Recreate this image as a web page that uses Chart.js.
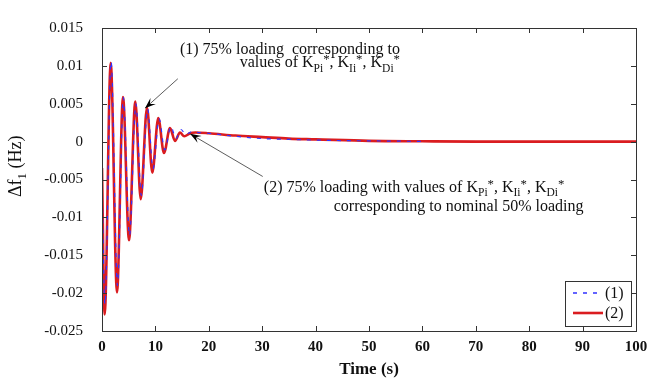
<!DOCTYPE html>
<html>
<head>
<meta charset="utf-8">
<script src="https://cdn.jsdelivr.net/npm/chart.js@4.4.0/dist/chart.umd.min.js"></script>
<style>
  html, body { margin: 0; padding: 0; background: #fff; }
  #wrap { width: 662px; height: 378px; }
</style>
</head>
<body>
<div id="wrap"><canvas id="freqChart" width="662" height="378"></canvas></div>
<script>
// curve (1): 75% loading, gains tuned for 75%  (extrema)
const time1 = [0, 0.55, 1.7, 2.9, 4.0, 5.15, 6.35, 7.35, 8.55, 9.55, 10.7, 11.75, 12.9, 13.85, 14.8, 15.7, 16.7, 18, 20, 25, 30, 35, 40, 50, 60];
const dev1 = [-0.005, -0.0215, 0.0106, -0.0190, 0.0058, -0.0124, 0.0050, -0.0071, 0.0043, -0.0036, 0.0030, -0.0011, 0.0020, 0.0004, 0.0016, 0.0009, 0.0013, 0.0012, 0.0011, 0.0007, 0.0004, 0.0003, 0.0002, 0.0001, 0.00003];

// curve (2): 75% loading with gains tuned for nominal 50%
const time2 = [0, 0.5, 1.63, 2.81, 3.93, 5.06, 6.24, 7.25, 8.43, 9.42, 10.54, 11.61, 12.73, 13.67, 14.6, 15.4, 16.5, 17.5, 20, 25, 30, 35, 40, 50, 60, 70, 80, 90, 100];
const dev2 = [-0.0035, -0.0228, 0.0104, -0.0199, 0.0059, -0.0130, 0.0053, -0.0076, 0.0045, -0.0041, 0.0031, -0.0015, 0.0018, 0.0001, 0.0012, 0.0007, 0.0011, 0.0012, 0.0011, 0.0008, 0.0006, 0.0004, 0.0003, 0.0001, 0.00004, 0, 0, 0, 0];

const xTicks = [0, 10, 20, 30, 40, 50, 60, 70, 80, 90, 100];
const yTicks = [-0.025, -0.02, -0.015, -0.01, -0.005, 0, 0.005, 0.01, 0.015];
const yTickLabels = ['-0.025', '-0.02', '-0.015', '-0.01', '-0.005', '0', '0.005', '0.01', '0.015'];
const seriesNames = ['(1)', '(2)'];

const serif = "'Liberation Serif', 'Times New Roman', serif";
const blue = 'rgb(50,50,255)';
const red = 'rgb(218,28,32)';

function pts(xs, ys) {
  return xs.map((x, i) => ({ x: x, y: ys[i] }));
}

// text with subscripts: parts = [[text, 'n'|'sub'|'sup'], ...]
function richText(ctx, parts, x, y, size) {
  let cx = x;
  parts.forEach(p => {
    let fs = size, dy = 0;
    if (p[1] === 'sub') { fs = size * 0.72; dy = size * 0.3; }
    if (p[1] === 'sup') { fs = size * 0.8; dy = -size * 0.25; }
    ctx.font = fs + 'px ' + serif;
    ctx.fillText(p[0], cx, y + dy);
    cx += ctx.measureText(p[0]).width;
  });
}

function arrow(ctx, x0, y0, x1, y1) {
  ctx.strokeStyle = '#333';
  ctx.lineWidth = 0.8;
  ctx.beginPath();
  ctx.moveTo(x0, y0);
  ctx.lineTo(x1, y1);
  ctx.stroke();
  const a = Math.atan2(y1 - y0, x1 - x0);
  const L = 11, W = 4;
  ctx.fillStyle = '#000';
  ctx.beginPath();
  ctx.moveTo(x1, y1);
  ctx.lineTo(x1 - L * Math.cos(a) + W * Math.sin(a), y1 - L * Math.sin(a) - W * Math.cos(a));
  ctx.lineTo(x1 - L * 0.6 * Math.cos(a), y1 - L * 0.6 * Math.sin(a));
  ctx.lineTo(x1 - L * Math.cos(a) - W * Math.sin(a), y1 - L * Math.sin(a) + W * Math.cos(a));
  ctx.closePath();
  ctx.fill();
}

const decor = {
  id: 'decor',
  afterDraw(chart) {
    const ctx = chart.ctx;
    const xs = chart.scales.x, ys = chart.scales.y;
    const a = chart.chartArea;
    const X = v => xs.getPixelForValue(v);
    const Y = v => ys.getPixelForValue(v);
    ctx.save();

    // frame + inward ticks
    ctx.strokeStyle = '#333';
    ctx.lineWidth = 1;
    ctx.strokeRect(a.left + 0.5, a.top + 0.5, a.right - a.left, a.bottom - a.top);
    ctx.beginPath();
    xTicks.forEach(t => {
      const px = Math.round(X(t)) + 0.5;
      ctx.moveTo(px, a.bottom); ctx.lineTo(px, a.bottom - 5);
      ctx.moveTo(px, a.top); ctx.lineTo(px, a.top + 5);
    });
    yTicks.forEach(t => {
      const py = Math.round(Y(t)) + 0.5;
      ctx.moveTo(a.left, py); ctx.lineTo(a.left + 5, py);
      ctx.moveTo(a.right, py); ctx.lineTo(a.right - 5, py);
    });
    ctx.stroke();

    // annotations
    ctx.fillStyle = '#111';
    ctx.textBaseline = 'alphabetic';
    ctx.textAlign = 'left';
    const fs = 16;
    richText(ctx, [['(1) 75% loading  corresponding to', 'n']], X(14.6), Y(0.0116), fs);
    richText(ctx, [['values of K', 'n'], ['Pi', 'sub'], ['*', 'sup'], [', K', 'n'], ['Ii', 'sub'], ['*', 'sup'], [', K', 'n'], ['Di', 'sub'], ['*', 'sup']], X(25.8), Y(0.0098), fs);
    richText(ctx, [['(2) 75% loading with values of K', 'n'], ['Pi', 'sub'], ['*', 'sup'], [', K', 'n'], ['Ii', 'sub'], ['*', 'sup'], [', K', 'n'], ['Di', 'sub'], ['*', 'sup']], X(30.3), Y(-0.0066), fs);
    richText(ctx, [['corresponding to nominal 50% loading', 'n']], X(43.4), Y(-0.0092), fs);
    arrow(ctx, X(14.2), Y(0.0083), X(8.05), Y(0.0044));
    arrow(ctx, X(30.1), Y(-0.0046), X(16.5), Y(0.00103));

    // legend box, entries in series-name order
    const lx = a.right - 71, ly = a.bottom - 50;
    ctx.fillStyle = '#fff';
    ctx.fillRect(lx, ly, 66, 45);
    ctx.strokeStyle = '#333';
    ctx.lineWidth = 1;
    ctx.strokeRect(lx + 0.5, ly + 0.5, 66, 45);
    seriesNames.forEach((name, i) => {
      const ds = chart.data.datasets.find(d => d.label === name);
      const yy = ly + 12 + i * 20;
      ctx.strokeStyle = ds.borderColor;
      ctx.lineWidth = Math.max(ds.borderWidth, 1.6);
      ctx.setLineDash(ds.borderDash || []);
      ctx.beginPath();
      ctx.moveTo(lx + 8, yy);
      ctx.lineTo(lx + 38, yy);
      ctx.stroke();
      ctx.setLineDash([]);
      ctx.fillStyle = '#111';
      ctx.font = '16px ' + serif;
      ctx.textBaseline = 'middle';
      ctx.fillText(name, lx + 40, yy + 1);
    });

    // axis titles
    ctx.textBaseline = 'alphabetic';
    ctx.fillStyle = '#111';
    ctx.font = 'bold 17px ' + serif;
    ctx.textAlign = 'center';
    ctx.fillText('Time (s)', (a.left + a.right) / 2, 374);
    ctx.textAlign = 'left';
    ctx.translate(21, 197);
    ctx.rotate(-Math.PI / 2);
    richText(ctx, [['\u0394f', 'n'], ['1', 'sub'], [' (Hz)', 'n']], 0, 0, 18);
    ctx.restore();
  }
};

new Chart(document.getElementById('freqChart'), {
  type: 'line',
  data: {
    datasets: [
      {
        label: seriesNames[0],
        data: pts(time1, dev1),
        borderColor: blue,
        borderWidth: 1.2,
        borderDash: [4, 6],
        cubicInterpolationMode: 'monotone',
        pointRadius: 0,
        order: 1
      },
      {
        label: seriesNames[1],
        data: pts(time2, dev2),
        borderColor: red,
        borderWidth: 2.6,
        cubicInterpolationMode: 'monotone',
        pointRadius: 0,
        order: 2
      }
    ]
  },
  options: {
    responsive: false,
    animation: false,
    devicePixelRatio: 1,
    layout: { padding: { top: 20, right: 26, left: 0, bottom: 0 } },
    plugins: { legend: { display: false }, tooltip: { enabled: false } },
    scales: {
      x: {
        type: 'linear',
        min: 0, max: 100,
        afterBuildTicks: s => { s.ticks = xTicks.map(v => ({ value: v })); },
        afterFit: s => { s.height = 47; },
        grid: { drawOnChartArea: false, drawTicks: false },
        border: { display: false },
        ticks: { color: '#111', padding: 7, font: { family: serif, size: 15, weight: 'bold' } }
      },
      y: {
        min: -0.025, max: 0.015,
        afterBuildTicks: s => { s.ticks = yTicks.map(v => ({ value: v })); },
        afterFit: s => { s.width = 102; },
        grid: { drawOnChartArea: false, drawTicks: false },
        border: { display: false },
        ticks: {
          color: '#111', padding: 19,
          font: { family: serif, size: 15 },
          callback: (v, i) => yTickLabels[i]
        }
      }
    }
  },
  plugins: [decor]
});
</script>
</body>
</html>
